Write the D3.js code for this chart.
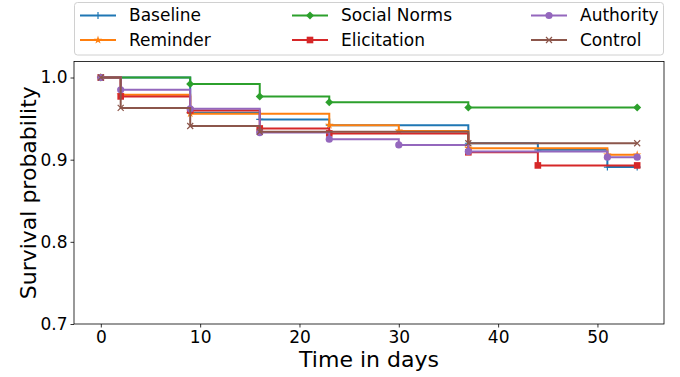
<!doctype html>
<html>
<head>
<meta charset="utf-8">
<script src="https://d3js.org/d3.v7.min.js"></script>
<style>
  body { margin: 0; background: #fff; }
  text { font-family: "DejaVu Sans", sans-serif; fill: #000; }
</style>
</head>
<body>
<svg id="chart" width="680" height="377"></svg>
<script>
// survival curves (day, survival probability)
const groups = ["Baseline", "Reminder", "Social Norms", "Elicitation", "Authority", "Control"];
const colors = ["#1f77b4", "#ff7f0e", "#2ca02c", "#d62728", "#9467bd", "#8c564b"];
const markers = ["plus", "star", "diamond", "square", "circle", "times"];

const baselineDays = [0, 9, 16, 23, 37, 44, 51, 54];
const baselineSurv = [1.0, 0.957, 0.949, 0.942, 0.920, 0.912, 0.891, 0.891];
const reminderDays = [0, 2, 9, 23, 30, 37, 51, 54];
const reminderSurv = [1.0, 0.979, 0.956, 0.942, 0.935, 0.914, 0.906, 0.906];
const normsDays = [0, 9, 16, 23, 37, 54];
const normsSurv = [1.0, 0.992, 0.977, 0.970, 0.9635, 0.9635];
const elicitDays = [0, 2, 9, 16, 23, 37, 44, 54];
const elicitSurv = [1.0, 0.977, 0.960, 0.938, 0.932, 0.909, 0.893, 0.893];
const authorityDays = [0, 2, 9, 16, 23, 30, 37, 51, 54];
const authoritySurv = [1.0, 0.985, 0.962, 0.933, 0.925, 0.918, 0.910, 0.903, 0.903];
const controlDays = [0, 2, 9, 16, 37, 54];
const controlSurv = [1.0, 0.963, 0.941, 0.934, 0.920, 0.920];

const xTicks = [0, 10, 20, 30, 40, 50];
const yTicks = [0.7, 0.8, 0.9, 1.0];

const days = [baselineDays, reminderDays, normsDays, elicitDays, authorityDays, controlDays];
const surv = [baselineSurv, reminderSurv, normsSurv, elicitSurv, authoritySurv, controlSurv];
const series = groups.map((g, i) => ({
  name: g, color: colors[i], marker: markers[i],
  points: days[i].map((d, j) => [d, surv[i][j]])
}));

const svg = d3.select("#chart");
const mLeft = 74, mRight = 664, mTop = 61.5, mBottom = 324;

const x = d3.scaleLinear().domain([-2.7, 56.7]).range([mLeft, mRight]);
const y = d3.scaleLinear().domain([0.7, 1.0195]).range([mBottom, mTop]);

// marker drawing
function drawMarker(g, kind, color, cx, cy) {
  const s = g.append("g").attr("transform", `translate(${cx},${cy})`);
  if (kind === "plus") {
    s.append("path").attr("d", "M-3.5,0H3.5M0,-3.5V3.5")
      .attr("stroke", color).attr("stroke-width", 1.2).attr("fill", "none");
  } else if (kind === "times") {
    s.append("path").attr("d", "M-3,-3L3,3M-3,3L3,-3")
      .attr("stroke", color).attr("stroke-width", 1.2).attr("fill", "none");
  } else if (kind === "star") {
    s.append("path").attr("d", d3.symbol(d3.symbolStar, 22)())
      .attr("fill", color);
  } else if (kind === "diamond") {
    s.append("path").attr("d", d3.symbol(d3.symbolSquare, 32)())
      .attr("transform", "rotate(45)").attr("fill", color);
  } else if (kind === "square") {
    s.append("path").attr("d", d3.symbol(d3.symbolSquare, 44)())
      .attr("fill", color);
  } else {
    s.append("circle").attr("r", 3.6).attr("fill", color);
  }
}

// axes
const xAxis = svg.append("g").attr("transform", `translate(0,${mBottom})`)
  .call(d3.axisBottom(x).tickValues(xTicks).tickSize(3.5).tickPadding(3).tickSizeOuter(0));
const yAxis = svg.append("g").attr("transform", `translate(${mLeft},0)`)
  .call(d3.axisLeft(y).tickValues(yTicks).tickFormat(d3.format(".1f")).tickSize(3.5).tickPadding(3).tickSizeOuter(0));
[xAxis, yAxis].forEach(a => {
  a.select(".domain").remove();
  a.selectAll("text").style("font-size", "17px").style("font-family", "DejaVu Sans");
  a.selectAll("line").attr("stroke", "#000").attr("stroke-width", 0.8);
});

// frame
svg.append("rect").attr("x", mLeft).attr("y", mTop)
  .attr("width", mRight - mLeft).attr("height", mBottom - mTop)
  .attr("fill", "none").attr("stroke", "#000").attr("stroke-width", 0.8);

// curves
const line = d3.line().x(d => x(d[0])).y(d => y(d[1])).curve(d3.curveStepAfter);
series.forEach(s => {
  const g = svg.append("g");
  g.append("path").datum(s.points).attr("d", line)
    .attr("fill", "none").attr("stroke", s.color).attr("stroke-width", 2);
  s.points.forEach(p => drawMarker(g, s.marker, s.color, x(p[0]), y(p[1])));
});

// axis titles
svg.append("text").attr("x", (mLeft + mRight) / 2).attr("y", 367)
  .attr("text-anchor", "middle").style("font-size", "22px").text("Time in days");
svg.append("text").attr("transform", `translate(36,${(mTop + mBottom) / 2}) rotate(-90)`)
  .attr("text-anchor", "middle").style("font-size", "22px").text("Survival probability");

// legend
const legend = svg.append("g");
legend.append("rect").attr("x", 74.5).attr("y", 2.5).attr("width", 589).attr("height", 52.5)
  .attr("rx", 3).attr("fill", "#fff").attr("fill-opacity", 0.8)
  .attr("stroke", "#d0d0d0").attr("stroke-width", 1);
const colX = [80, 292, 531];
const rowY = [15.5, 40];
series.forEach((s, i) => {
  const cx = colX[Math.floor(i / 2)], cy = rowY[i % 2];
  legend.append("line").attr("x1", cx).attr("x2", cx + 36).attr("y1", cy).attr("y2", cy)
    .attr("stroke", s.color).attr("stroke-width", 2);
  drawMarker(legend, s.marker, s.color, cx + 18, cy);
  legend.append("text").attr("x", cx + 49).attr("y", cy).attr("dy", "0.35em")
    .style("font-size", "17px").text(s.name);
});
</script>
</body>
</html>
